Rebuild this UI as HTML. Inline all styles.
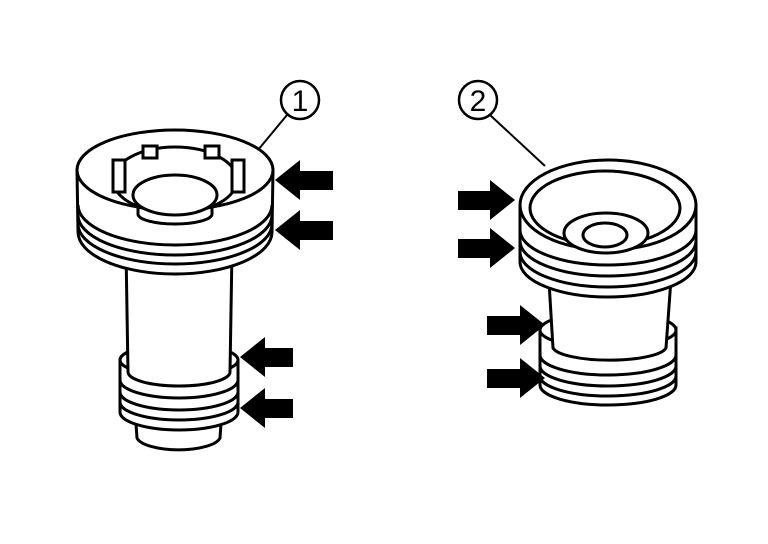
<!DOCTYPE html>
<html><head><style>body{margin:0;background:#fff}svg{display:block}</style></head><body>
<svg width="768" height="544" viewBox="0 0 768 544" xmlns="http://www.w3.org/2000/svg">
<g fill="#fff" stroke="#000" stroke-width="3">
<!-- LEFT PART -->
<path d="M135 410 L137 438 A42 14 0 0 0 220 438 L222 410 Z"/>
<path d="M120 360 L120 412 A59 18 0 0 0 238 412 L238 360 Z"/>
<path d="M120 380 A59 18 0 0 0 238 380" fill="none"/>
<path d="M120 392 A59 18 0 0 0 238 392" fill="none"/>
<path d="M120 402 A59 18 0 0 0 238 402" fill="none"/>
<ellipse cx="179" cy="360" rx="59" ry="16"/>
<path d="M126 250 L128 372 A51 14 0 0 0 230 372 L232 250 Z"/>
<path d="M77 170 L78 232 A97 42 0 0 0 272 232 L273 170 Z"/>
<path d="M78 205 A97 40 0 0 0 272 205" fill="none"/>
<path d="M78 215 A97 40 0 0 0 272 215" fill="none"/>
<path d="M78 224 A97 40 0 0 0 272 224" fill="none"/>
<ellipse cx="175" cy="170" rx="98" ry="40"/>
<ellipse cx="175" cy="180" rx="62" ry="33"/>
<ellipse cx="175" cy="195" rx="42" ry="20"/>
<path d="M138 208 L138 214 A37 10 0 0 0 212 214 L212 208" fill="none"/>
<rect x="143" y="146" width="14" height="12"/>
<rect x="205" y="146" width="14" height="12"/>
<rect x="113" y="160" width="12" height="32"/>
<rect x="232" y="160" width="12" height="32"/>
<!-- RIGHT PART -->
<path d="M540 328 L540 385 A68 20 0 0 0 676 385 L676 328 Z"/>
<path d="M540 355 A68 20 0 0 0 676 355" fill="none"/>
<path d="M540 366 A68 20 0 0 0 676 366" fill="none"/>
<path d="M540 376 A68 20 0 0 0 676 376" fill="none"/>
<ellipse cx="608" cy="330" rx="68" ry="18"/>
<path d="M548 265 L553 348 A57 14 0 0 0 666 348 L672 265 Z"/>
<path d="M520 205 L520 262 A88 35 0 0 0 696 262 L696 205 Z"/>
<path d="M520 230 A88 35 0 0 0 696 230" fill="none"/>
<path d="M520 241 A88 35 0 0 0 696 241" fill="none"/>
<path d="M520 252 A88 35 0 0 0 696 252" fill="none"/>
<ellipse cx="608" cy="205" rx="88" ry="45"/>
<ellipse cx="605" cy="208" rx="75" ry="37"/>
<ellipse cx="606" cy="233" rx="42" ry="20"/>
<ellipse cx="605" cy="235" rx="22" ry="12"/>
<circle cx="300" cy="100" r="19" stroke-width="2.5"/>
<circle cx="478" cy="100" r="19" stroke-width="2.5"/>
<line x1="287" y1="115" x2="258" y2="150" stroke-width="2"/>
<line x1="490" y1="115" x2="545" y2="166" stroke-width="2"/>
</g>
<g font-family="Liberation Sans, sans-serif" font-size="30" text-anchor="middle">
<text x="300" y="111">1</text><text x="478" y="111">2</text>
</g>
<g fill="#000">
<polygon points="275,180 300,160 300,171 333,171 333,190 300,190 300,200"/>
<polygon points="275,230 300,210 300,221 333,221 333,240 300,240 300,250"/>
<polygon points="240,357 265,337 265,348 293,348 293,367 265,367 265,377"/>
<polygon points="240,408 265,388 265,399 293,399 293,418 265,418 265,428"/>
<polygon points="515,200 490,180 490,191 458,191 458,210 490,210 490,220"/>
<polygon points="515,248 490,228 490,239 458,239 458,258 490,258 490,268"/>
<polygon points="545,325 520,305 520,316 487,316 487,335 520,335 520,345"/>
<polygon points="545,378 520,358 520,369 487,369 487,388 520,388 520,398"/>
</g>
</svg>
</body></html>
